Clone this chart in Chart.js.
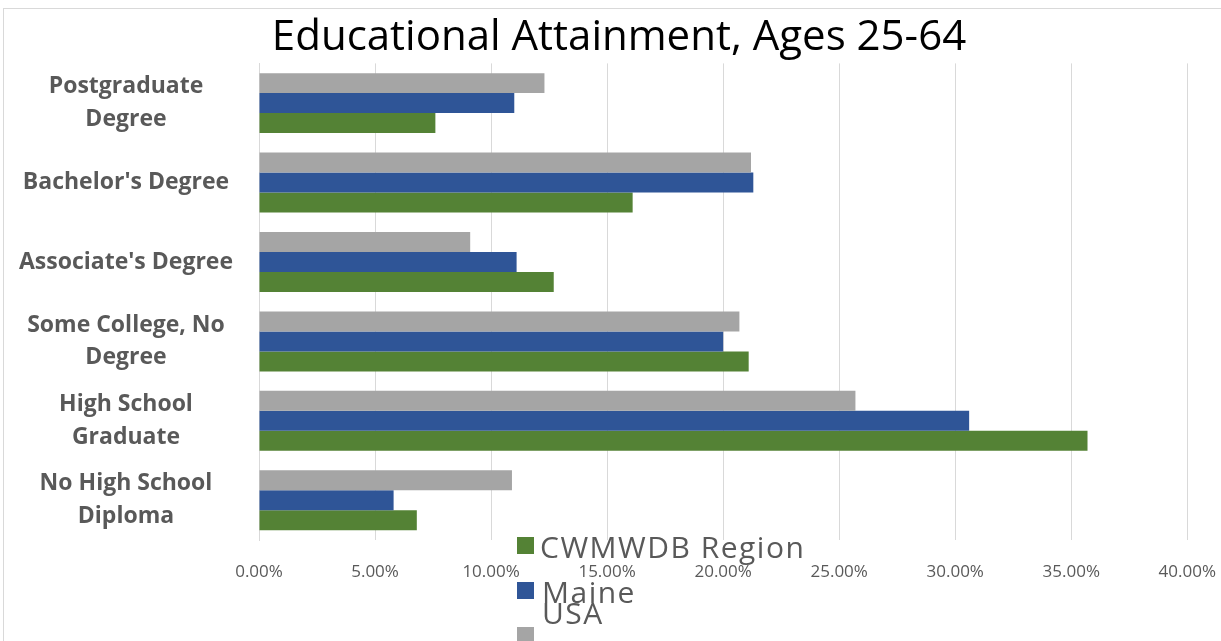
<!DOCTYPE html>
<html>
<head>
<meta charset="utf-8">
<script src="https://cdn.jsdelivr.net/npm/chart.js@4"></script>
<style>
  body { margin: 0; background: #fff; width: 1221px; height: 641px; overflow: hidden; position: relative; }
  #frame { position: absolute; left: 3px; top: 8px; width: 1230px; height: 650px; border: 1px solid #d9d9d9; }
  #wrap { position: absolute; left: 0; top: 0; width: 1238px; height: 592px; }
  .lg { position: absolute; font-family: "Open Sans", sans-serif; color: #595959; font-size: 30px; letter-spacing: 1.5px; line-height: 1; white-space: nowrap; }
  .sq { position: absolute; width: 17px; height: 17px; }
</style>
</head>
<body>
<div id="frame"></div>
<div id="wrap"><canvas id="chart"></canvas></div>

<!-- legend, drawn the way the original overlaps -->
<div class="sq" style="left:517px;top:537px;background:#548235"></div>
<div class="lg" style="left:540px;top:532px">CWMWDB Region</div>
<div class="sq" style="left:517px;top:582px;background:#2f5597"></div>
<div class="lg" style="left:542px;top:577px">Maine</div>
<div class="lg" style="left:542px;top:598px">USA</div>
<div class="sq" style="left:517px;top:627px;background:#a5a5a5"></div>

<script>
  // categories, top to bottom
  const categories = [
    ['Postgraduate', 'Degree'],
    "Bachelor's Degree",
    "Associate's Degree",
    ['Some College, No', 'Degree'],
    ['High School', 'Graduate'],
    ['No High School', 'Diploma'],
  ];

  // shares (%)
  const usa = [12.3, 21.2, 9.1, 20.7, 25.7, 10.9];
  const maine = [11.0, 21.3, 11.1, 20.0, 30.6, 5.8];
  const region = [7.6, 16.1, 12.7, 21.1, 35.7, 6.8];

  const xTicks = [0, 5, 10, 15, 20, 25, 30, 35, 40];

  const ctx = document.getElementById('chart').getContext('2d');
  new Chart(ctx, {
    type: 'bar',
    data: {
      labels: categories,
      datasets: [
        { label: 'USA', data: usa, backgroundColor: '#a5a5a5' },
        { label: 'Maine', data: maine, backgroundColor: '#2f5597' },
        { label: 'CWMWDB Region', data: region, backgroundColor: '#548235' },
      ],
    },
    options: {
      indexAxis: 'y',
      responsive: true,
      maintainAspectRatio: false,
      animation: false,
      layout: { padding: 0 },
      datasets: { bar: { categoryPercentage: 0.755, barPercentage: 1.0 } },
      plugins: {
        legend: { display: false },
        tooltip: { enabled: false },
        title: {
          display: true,
          text: 'Educational Attainment, Ages 25-64',
          color: '#000',
          font: { family: 'Open Sans', size: 42, weight: 'normal' },
          padding: { top: 13, bottom: 0 },
        },
      },
      scales: {
        x: {
          min: 0,
          max: 40,
          afterBuildTicks: (scale) => { scale.ticks = xTicks.map(v => ({ value: v })); },
          afterFit: (scale) => { scale.height = 52; },
          ticks: {
            color: '#595959',
            padding: 22,
            font: { family: 'Open Sans', size: 17 },
            callback: (v) => v.toFixed(2) + '%',
          },
          grid: { color: '#d9d9d9', drawTicks: false },
          border: { display: false },
        },
        y: {
          afterFit: (scale) => { scale.width = 259; },
          ticks: {
            color: '#595959',
            crossAlign: 'center',
            padding: 18,
            font: { family: 'Open Sans', size: 23, weight: 'bold', lineHeight: 1.43 },
          },
          grid: { display: false },
          border: { color: '#d9d9d9' },
        },
      },
    },
  });
</script>
</body>
</html>
